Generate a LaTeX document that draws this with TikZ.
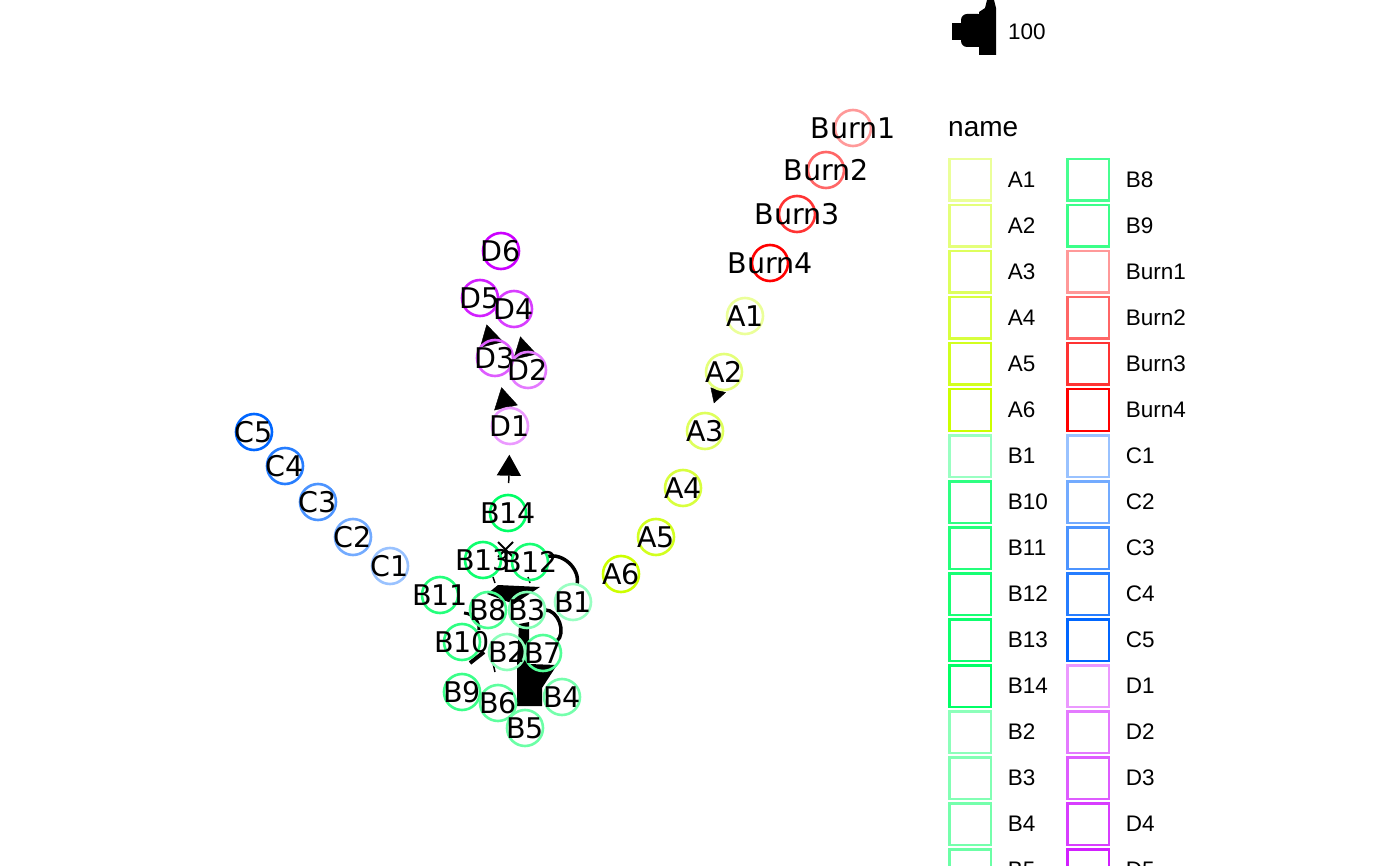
\documentclass[tikz,border=0pt]{standalone}
\usepackage{fontspec}
\setmainfont{Liberation Sans}
\newfontfamily\lblfont{DejaVu Sans}
\usetikzlibrary{arrows.meta,calc,backgrounds}

\definecolor{grpA}{RGB}{204,255,0}
\definecolor{grpB}{RGB}{0,255,102}
\definecolor{grpBurn}{RGB}{255,0,0}
\definecolor{grpC}{RGB}{0,102,255}
\definecolor{grpD}{RGB}{204,0,255}

\begin{document}
\begin{tikzpicture}[
      x=1pt,
      y=-1pt,
      vertex/.style={
        circle,
        draw=#1,
        line width=2.6pt,
        minimum size=36pt,
        inner sep=0pt,
        outer sep=0pt
      },
      vlabel/.style={font=\lblfont\fontsize{28.5}{30}\selectfont, inner sep=0pt},
      edge/.style={
        draw=black,
        line width=0.4pt,
        -{Triangle[length=21pt,width=24pt]}
      },
      keybox/.style={
        rectangle,
        draw=#1,
        line width=2.5pt,
        minimum size=41.5pt,
        inner sep=0pt,
        outer sep=0pt
      },
      keytext/.style={font=\fontsize{22.5}{24}\selectfont, inner sep=0pt, label distance=17pt}
    ]
    \clip (0,0) rectangle (1400,866);

    % vertices
    \node[vertex=grpBurn!40, label={[vlabel]center:Burn1}] (Burn1) at (853,128) {};
    \node[vertex=grpBurn!60, label={[vlabel]center:Burn2}] (Burn2) at (826,170) {};
    \node[vertex=grpBurn!80, label={[vlabel]center:Burn3}] (Burn3) at (797,214) {};
    \node[vertex=grpBurn, label={[vlabel]center:Burn4}] (Burn4) at (770,263) {};

    \node[vertex=grpA!40, label={[vlabel]center:A1}] (A1) at (745,316) {};
    \node[vertex=grpA!52, label={[vlabel]center:A2}] (A2) at (724,372) {};
    \node[vertex=grpA!64, label={[vlabel]center:A3}] (A3) at (705,431) {};
    \node[vertex=grpA!76, label={[vlabel]center:A4}] (A4) at (683,488) {};
    \node[vertex=grpA!88, label={[vlabel]center:A5}] (A5) at (656,537) {};
    \node[vertex=grpA, label={[vlabel]center:A6}] (A6) at (621,574) {};

    \node[vertex=grpD, label={[vlabel]center:D6}] (D6) at (501,251) {};
    \node[vertex=grpD!88, label={[vlabel]center:D5}] (D5) at (480,298) {};
    \node[vertex=grpD!76, label={[vlabel]center:D4}] (D4) at (514,309) {};
    \node[vertex=grpD!64, label={[vlabel]center:D3}] (D3) at (495,358) {};
    \node[vertex=grpD!52, label={[vlabel]center:D2}] (D2) at (528,370) {};
    \node[vertex=grpD!40, label={[vlabel]center:D1}] (D1) at (510,426) {};

    \node[vertex=grpC, label={[vlabel]center:C5}] (C5) at (254,432) {};
    \node[vertex=grpC!85, label={[vlabel]center:C4}] (C4) at (285,466) {};
    \node[vertex=grpC!70, label={[vlabel]center:C3}] (C3) at (318,502) {};
    \node[vertex=grpC!55, label={[vlabel]center:C2}] (C2) at (353,537) {};
    \node[vertex=grpC!40, label={[vlabel]center:C1}] (C1) at (390,566) {};

    \node[vertex=grpB, label={[vlabel]center:B14}] (B14) at (508,513) {};
    \node[vertex=grpB!95, label={[vlabel]center:B13}] (B13) at (483,560) {};
    \node[vertex=grpB!91, label={[vlabel]center:B12}] (B12) at (530,562) {};
    \node[vertex=grpB!86, label={[vlabel]center:B11}] (B11) at (440,595) {};
    \node[vertex=grpB!82, label={[vlabel]center:B10}] (B10) at (462,642) {};
    \node[vertex=grpB!77, label={[vlabel]center:B9}] (B9) at (462,692) {};
    \node[vertex=grpB!72, label={[vlabel]center:B8}] (B8) at (488,610) {};
    \node[vertex=grpB!68, label={[vlabel]center:B7}] (B7) at (543,653) {};
    \node[vertex=grpB!63, label={[vlabel]center:B6}] (B6) at (498,703) {};
    \node[vertex=grpB!58, label={[vlabel]center:B5}] (B5) at (525,728) {};
    \node[vertex=grpB!54, label={[vlabel]center:B4}] (B4) at (562,697) {};
    \node[vertex=grpB!49, label={[vlabel]center:B3}] (B3) at (527,610) {};
    \node[vertex=grpB!45, label={[vlabel]center:B2}] (B2) at (507,652) {};
    \node[vertex=grpB!40, label={[vlabel]center:B1}] (B1) at (573,602) {};

    % edges
    \begin{scope}[on background layer]
      \draw[edge, -{Triangle[length=14pt,width=16pt]}] (A2) -- ($(A2)!0.53!(A3)$);
      \draw[edge, line width=1.5pt, shorten <=12pt] (B14) -- ($(B14)!0.67!(D1)$);
      \draw[edge] (D1) -- ($(D1)!0.57!(D3)$);
      \draw[edge] (D3) -- ($(D3)!0.56!(D5)$);
      \draw[edge] (D2) -- ($(D2)!0.55!(D4)$);

      \draw[line width=3.5pt] (B1) to[bend right=60] (B12);
      \draw[line width=3.5pt] (B3) to[bend left=70] (B7);
      \fill (487,594) -- (498,585) -- (540,587) -- (514,604) -- cycle;
      \fill (519,624) -- (529,622) -- (529,664) -- (557,665) -- (542,688)
        -- (542,706) -- (517,706) -- (517,664) -- cycle;
      \draw[line width=4pt] (470,663) -- (484,652);
      \draw[line width=3pt] (464,613) to[bend left=45] (479,630);
      \draw[line width=1.5pt] (493,663) -- (495,672);
      \draw[line width=2pt] (498,542) -- (513,557) (513,542) -- (498,557);
      \draw[line width=1.5pt] (493,577) -- (495,583) (528,577) -- (530,583);
    \end{scope}

    % size key
    \fill (952,23) rectangle (964,40);
    \fill[rounded corners=6pt] (961,14) rectangle (984,47);
    \fill (979,55) -- (979,12) -- (985,8) -- (987,0) -- (994,0) -- (996,8)
      -- (996,55) -- cycle;
    \node[anchor=west, font=\fontsize{22.5}{24}\selectfont, inner sep=0pt] (sizekey) at (1008,32) {100};

    % colour key
    \node[anchor=west, font=\fontsize{28}{30}\selectfont, inner sep=0pt] (keytitle) at (948,129) {name};

    \node[keybox=grpA!40, label={[keytext]east:A1}] (kA1) at (970,180) {};
    \node[keybox=grpA!52, label={[keytext]east:A2}] (kA2) at (970,226) {};
    \node[keybox=grpA!64, label={[keytext]east:A3}] (kA3) at (970,272) {};
    \node[keybox=grpA!76, label={[keytext]east:A4}] (kA4) at (970,318) {};
    \node[keybox=grpA!88, label={[keytext]east:A5}] (kA5) at (970,364) {};
    \node[keybox=grpA, label={[keytext]east:A6}] (kA6) at (970,410) {};
    \node[keybox=grpB!40, label={[keytext]east:B1}] (kB1) at (970,456) {};
    \node[keybox=grpB!82, label={[keytext]east:B10}] (kB10) at (970,502) {};
    \node[keybox=grpB!86, label={[keytext]east:B11}] (kB11) at (970,548) {};
    \node[keybox=grpB!91, label={[keytext]east:B12}] (kB12) at (970,594) {};
    \node[keybox=grpB!95, label={[keytext]east:B13}] (kB13) at (970,640) {};
    \node[keybox=grpB, label={[keytext]east:B14}] (kB14) at (970,686) {};
    \node[keybox=grpB!45, label={[keytext]east:B2}] (kB2) at (970,732) {};
    \node[keybox=grpB!49, label={[keytext]east:B3}] (kB3) at (970,778) {};
    \node[keybox=grpB!54, label={[keytext]east:B4}] (kB4) at (970,824) {};
    \node[keybox=grpB!58, label={[keytext]east:B5}] (kB5) at (970,870) {};

    \node[keybox=grpB!72, label={[keytext]east:B8}] (kB8) at (1088,180) {};
    \node[keybox=grpB!77, label={[keytext]east:B9}] (kB9) at (1088,226) {};
    \node[keybox=grpBurn!40, label={[keytext]east:Burn1}] (kBurn1) at (1088,272) {};
    \node[keybox=grpBurn!60, label={[keytext]east:Burn2}] (kBurn2) at (1088,318) {};
    \node[keybox=grpBurn!80, label={[keytext]east:Burn3}] (kBurn3) at (1088,364) {};
    \node[keybox=grpBurn, label={[keytext]east:Burn4}] (kBurn4) at (1088,410) {};
    \node[keybox=grpC!40, label={[keytext]east:C1}] (kC1) at (1088,456) {};
    \node[keybox=grpC!55, label={[keytext]east:C2}] (kC2) at (1088,502) {};
    \node[keybox=grpC!70, label={[keytext]east:C3}] (kC3) at (1088,548) {};
    \node[keybox=grpC!85, label={[keytext]east:C4}] (kC4) at (1088,594) {};
    \node[keybox=grpC, label={[keytext]east:C5}] (kC5) at (1088,640) {};
    \node[keybox=grpD!40, label={[keytext]east:D1}] (kD1) at (1088,686) {};
    \node[keybox=grpD!52, label={[keytext]east:D2}] (kD2) at (1088,732) {};
    \node[keybox=grpD!64, label={[keytext]east:D3}] (kD3) at (1088,778) {};
    \node[keybox=grpD!76, label={[keytext]east:D4}] (kD4) at (1088,824) {};
    \node[keybox=grpD!88, label={[keytext]east:D5}] (kD5) at (1088,870) {};
  \end{tikzpicture}
\end{document}
